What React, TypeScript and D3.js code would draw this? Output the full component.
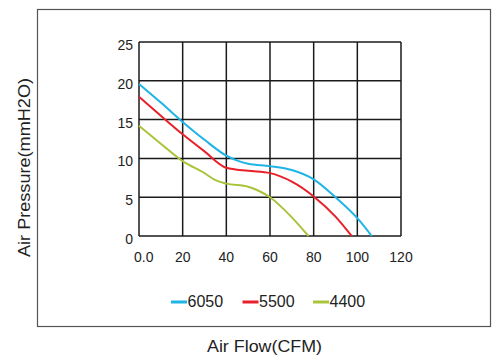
import React from "react";
import * as d3 from "d3";

const xTicks = [0, 20, 40, 60, 80, 100, 120];
const xTickLabels = ["0.0", "20", "40", "60", "80", "100", "120"];
const yTicks = [0, 5, 10, 15, 20, 25];

const seriesNames = ["6050", "5500", "4400"];
const seriesColors = ["#1eb4e6", "#e8202a", "#a8c43a"];

const flow6050 = [0, 10, 20, 30, 40, 50, 60, 70, 80, 90, 100, 106.6];
const pres6050 = [19.6, 17.2, 14.7, 12.4, 10.35, 9.3, 9.0, 8.5, 7.3, 5.0, 2.3, 0];
const flow5500 = [0, 10, 20, 30, 40, 50, 60, 70, 80, 90, 97.4];
const pres5500 = [17.95, 15.5, 13.1, 10.9, 8.8, 8.4, 8.1, 7.0, 5.1, 2.5, 0];
const flow4400 = [0, 10, 20, 30, 35, 40, 50, 55, 60, 70, 77.6];
const pres4400 = [14.2, 11.9, 9.65, 8.1, 7.2, 6.75, 6.35, 5.8, 5.0, 2.4, 0];

const seriesFlows = [flow6050, flow5500, flow4400];
const seriesPres = [pres6050, pres5500, pres4400];

export default function App() {
  const W = 497, H = 357;
  const left = 139, right = 401, top = 42, bottom = 236;
  const x = d3.scaleLinear().domain([0, 120]).range([left, right]);
  const y = d3.scaleLinear().domain([0, 25]).range([bottom, top]);
  const line = d3
    .line<[number, number]>()
    .x((d) => x(d[0]))
    .y((d) => y(d[1]))
    .curve(d3.curveMonotoneX);
  const font = "Liberation Sans, Arial, sans-serif";
  const legendX = [171, 242.5, 313];

  return (
    <svg
      width={W}
      height={H}
      style={{ position: "absolute", left: 0, top: 0, background: "#fff" }}
      fontFamily={font}
    >
      <rect x={37.5} y={9.5} width={453} height={317} fill="none" stroke="#555" strokeWidth={1.2} />
      {xTicks.map((t) => (
        <line key={"gx" + t} x1={x(t)} x2={x(t)} y1={top} y2={bottom} stroke="#1a1a1a" strokeWidth={1.5} />
      ))}
      {yTicks.map((t) => (
        <line key={"gy" + t} x1={left} x2={right} y1={y(t)} y2={y(t)} stroke="#1a1a1a" strokeWidth={1.5} />
      ))}
      {seriesNames.map((n, i) => (
        <path
          key={n}
          d={line(seriesFlows[i].map((f, j) => [f, seriesPres[i][j]] as [number, number])) || ""}
          fill="none"
          stroke={seriesColors[i]}
          strokeWidth={2}
        />
      ))}
      {yTicks.map((t) => (
        <text key={"ty" + t} x={133} y={y(t) + 8} textAnchor="end" fontSize={14} fill="#222">
          {t}
        </text>
      ))}
      {xTicks.map((t, i) => (
        <text
          key={"tx" + t}
          x={i === 0 ? 134 : x(t)}
          y={262}
          textAnchor={i === 0 ? "start" : "middle"}
          fontSize={14}
          fill="#222"
        >
          {xTickLabels[i]}
        </text>
      ))}
      {seriesNames.map((n, i) => (
        <g key={"lg" + n}>
          <line x1={legendX[i]} x2={legendX[i] + 16} y1={302} y2={302} stroke={seriesColors[i]} strokeWidth={3} />
          <text x={legendX[i] + 16.5} y={307} fontSize={16} fill="#222">
            {n}
          </text>
        </g>
      ))}
      <text x={207} y={351.5} fontSize={16} fill="#222" textLength={115} lengthAdjust="spacingAndGlyphs">
        Air Flow(CFM)
      </text>
      <text
        transform={`translate(30,257) rotate(-90)`}
        fontSize={16}
        fill="#222"
        textLength={179}
        lengthAdjust="spacingAndGlyphs"
      >
        Air Pressure(mmH2O)
      </text>
    </svg>
  );
}
